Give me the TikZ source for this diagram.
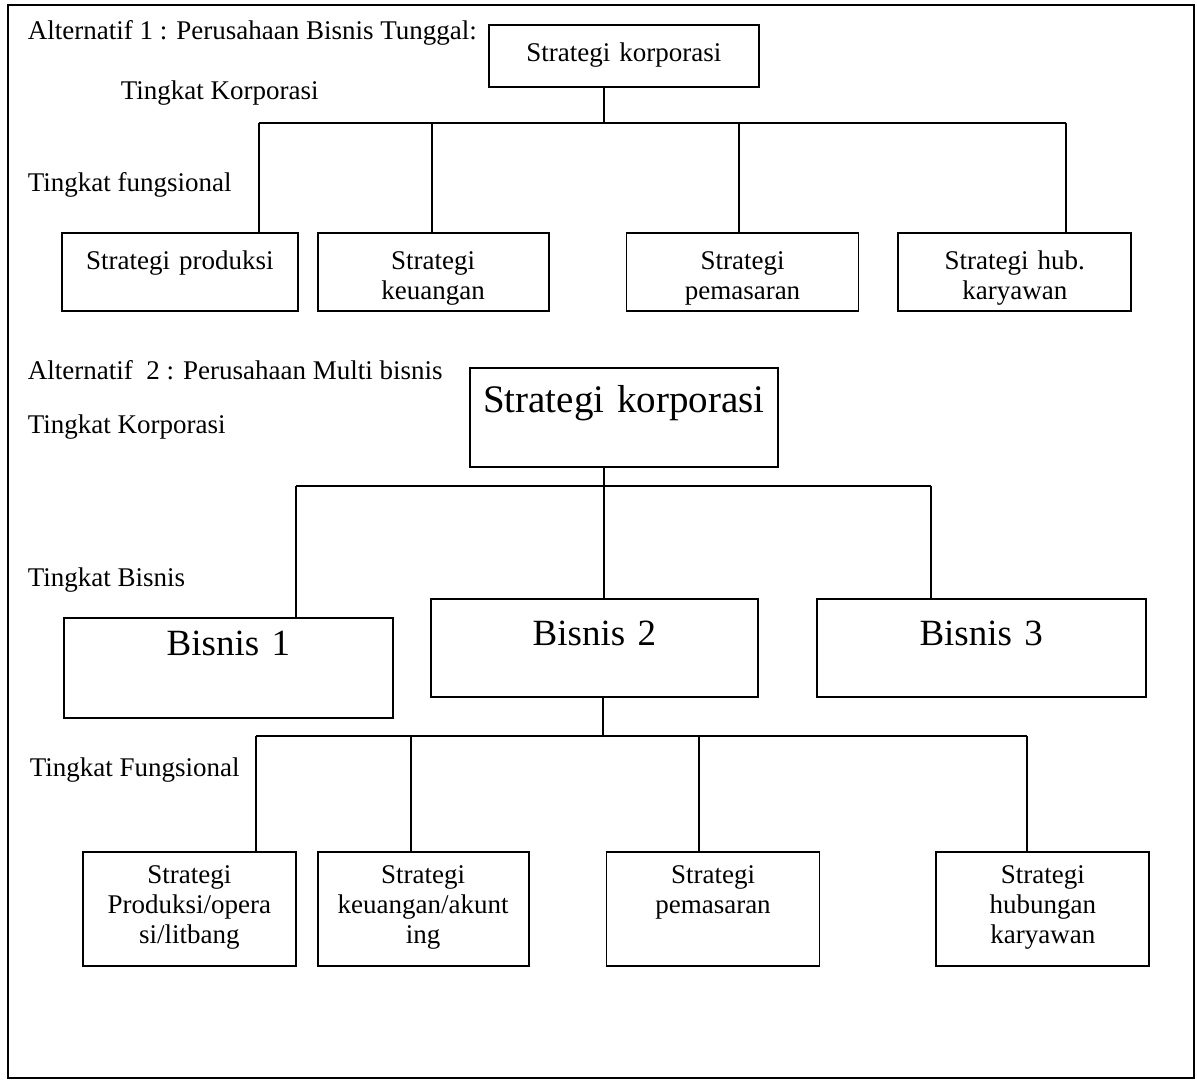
\documentclass[tikz,border=0pt]{standalone}
\usepackage{fontspec}
\setmainfont{Liberation Serif}
\usetikzlibrary{positioning}
\tikzset{
  level/.style={anchor=west, inner sep=0pt},
  strat/.style={draw, inner sep=0pt, align=center},
  baris1/.style={strat, text height=18.5pt, text depth=20.5pt},
  baris3/.style={strat, text height=16pt, text depth=41pt},
  besar/.style={font=\fontsize{18.5}{22}\selectfont}
}

\begin{document}
\begin{tikzpicture}[x=0.5pt, y=-0.5pt, line width=0.9pt, every node/.style={font=\fontsize{13.5}{15}\selectfont}]
\useasboundingbox (0,0) rectangle (1197,1080);
\draw (8,5) rectangle (1194,1078);

% Alternatif 1
\node[level] (alt1) at (27,33) {Alternatif 1 : Perusahaan Bisnis Tunggal:};
\node[strat, anchor=north west, text width=135pt, text height=18.5pt, text depth=12.5pt] (korp1) at (488,24) {Strategi korporasi};
\node[level] (tk1) at (120,93) {Tingkat Korporasi};
\node[level] (tf1) at (27,185) {Tingkat fungsional};
\node[baris1, anchor=north west, text width=118pt] (prod1) at (61,232) {Strategi produksi};
\node[baris1, right=9pt of prod1, text width=115.5pt] (keu1) {Strategi\\keuangan};
\node[baris1, right=38pt of keu1, text width=116pt] (pem1) {Strategi\\pemasaran};
\node[baris1, right=19pt of pem1, text width=116.5pt] (hub1) {Strategi hub.\\karyawan};

\coordinate (s1) at (604,123);
\coordinate (d11) at (259,123);
\coordinate (d12) at (432,123);
\coordinate (d13) at (739,123);
\coordinate (d14) at (1066,123);
\draw (s1 |- korp1.south) -- (s1);
\draw (d11) -- (d14);
\draw (d11) -- (d11 |- prod1.north);
\draw (d12) -- (d12 |- keu1.north);
\draw (d13) -- (d13 |- pem1.north);
\draw (d14) -- (d14 |- hub1.north);

% Alternatif 2
\node[level] (alt2) at (27,370) {Alternatif\ \ 2 : Perusahaan Multi bisnis};
\node[strat, besar, font=\fontsize{19.5}{23}\selectfont, anchor=north west, text width=154pt, text height=22.5pt, text depth=27pt] (korp2) at (469,367) {Strategi korporasi};
\node[level] (tk2) at (27,427) {Tingkat Korporasi};
\node[level] (tb) at (27,580) {Tingkat Bisnis};
\node[strat, besar, anchor=north west, text width=164.5pt, text height=19pt, text depth=31pt] (bis1) at (63,617) {Bisnis 1};
\node[strat, besar, anchor=north west, text width=163.5pt, text height=23.5pt, text depth=25.5pt] (bis2) at (430,598) {Bisnis 2};
\node[strat, besar, right=28.5pt of bis2, text width=164.5pt, text height=23.5pt, text depth=25.5pt] (bis3) {Bisnis 3};

\coordinate (s2) at (604,486);
\coordinate (d21) at (296,486);
\coordinate (d23) at (931,486);
\draw (s2 |- korp2.south) -- (s2);
\draw (d21) -- (d23);
\draw (d21) -- (d21 |- bis1.north);
\draw (s2) -- (s2 |- bis2.north);
\draw (d23) -- (d23 |- bis3.north);

\node[level] (tf2) at (29,770) {Tingkat Fungsional};
\node[baris3, anchor=north west, text width=106.5pt] (prod2) at (82,851) {Strategi\\Produksi/opera\\si/litbang};
\node[baris3, right=10pt of prod2, text width=105.5pt] (keu2) {Strategi\\keuangan/akunt\\ing};
\node[baris3, right=38pt of keu2, text width=106.5pt] (pem2) {Strategi\\pemasaran};
\node[baris3, right=57.5pt of pem2, text width=106.5pt] (hub2) {Strategi\\hubungan\\karyawan};

\coordinate (s3) at (603,736);
\coordinate (d31) at (256,736);
\coordinate (d32) at (411,736);
\coordinate (d33) at (699,736);
\coordinate (d34) at (1027,736);
\draw (s3 |- bis2.south) -- (s3);
\draw (d31) -- (d34);
\draw (d31) -- (d31 |- prod2.north);
\draw (d32) -- (d32 |- keu2.north);
\draw (d33) -- (d33 |- pem2.north);
\draw (d34) -- (d34 |- hub2.north);
\end{tikzpicture}
\end{document}
